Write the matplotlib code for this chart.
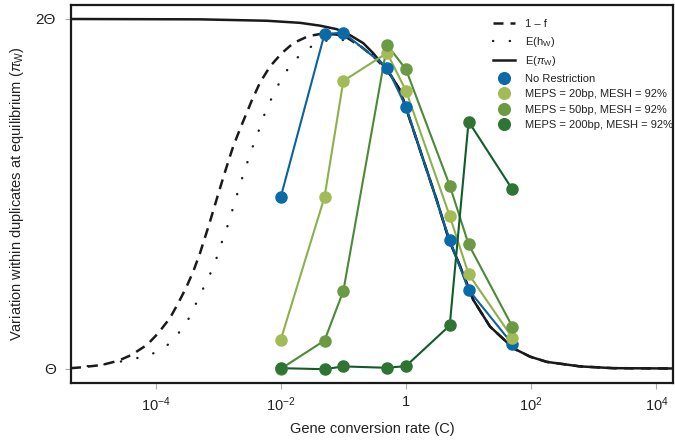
import matplotlib
matplotlib.use("Agg")
import matplotlib.pyplot as plt
import numpy as np

plt.rcParams['font.family'] = ['Liberation Sans', 'DejaVu Sans']
plt.rcParams['mathtext.fontset'] = 'custom'
plt.rcParams['mathtext.rm'] = 'Liberation Sans'
plt.rcParams['mathtext.it'] = 'Liberation Sans:italic'
plt.rcParams['mathtext.bf'] = 'Liberation Sans:bold'

# ---------------- data (Theta units) ----------------
C_sim = [0.01, 0.05, 0.1, 0.5, 1, 5, 10, 50]
no_restriction = [1.491, 1.957, 1.961, 1.861, 1.749, 1.367, 1.226, 1.071]
meps20 = [1.083, 1.491, 1.823, 1.903, 1.795, 1.437, 1.271, 1.089]
meps50 = [1.000, 1.081, 1.223, 1.926, 1.856, 1.524, 1.356, 1.121]
meps200 = [1.002, 0.999, 1.007, 1.003, 1.008, 1.124, 1.707, 1.513]

# E(pi_W) (log10 C, value)
epi_logC = [-5.35, -3.29, -2.225, -1.693, -1.374, -1.107, -0.895, -0.682, -0.522,
            -0.388, -0.228, -0.096, 0.0, 0.224, 0.49, 0.687, 0.863, 1.075, 1.342,
            1.714, 1.981, 2.248, 2.78, 3.307, 4.3]
epi_val = [2.0, 1.999, 1.995, 1.989, 1.981, 1.971, 1.954, 1.931, 1.902,
           1.873, 1.835, 1.797, 1.746, 1.626, 1.483, 1.369, 1.294, 1.197, 1.121,
           1.059, 1.035, 1.020, 1.007, 1.002, 1.001]

# 1 - f (left part; merges into E(pi_W) beyond)
f_logC = [-5.35, -5.208, -4.861, -4.596, -4.382, -4.133, -3.957, -3.77, -3.637,
          -3.514, -3.398, -3.291, -3.158, -3.078, -2.998, -2.918, -2.839,
          -2.759, -2.663, -2.599, -2.465, -2.332, -2.173, -1.986, -1.8, -1.561,
          -1.374, -1.134, -0.98, -0.71, -0.495, -0.308]
f_val = [1.002, 1.004, 1.011, 1.023, 1.040, 1.069, 1.102, 1.145, 1.188,
         1.231, 1.278, 1.330, 1.405, 1.452, 1.500, 1.547, 1.592,
         1.636, 1.680, 1.708, 1.766, 1.818, 1.864, 1.902, 1.931, 1.951,
         1.957, 1.956, 1.951, 1.920, 1.889, 1.854]

# E(h_W) (left part; merges into E(pi_W) beyond)
h_logC = [-5.35, -5.128, -4.676, -4.382, -4.117, -3.93, -3.77, -3.61, -3.45,
          -3.291, -3.158, -3.051, -2.971, -2.875, -2.796, -2.641, -2.556, -2.465,
          -2.375, -2.225, -2.013, -1.88, -1.72, -1.561, -1.443, -1.187, -1.0,
          -0.788, -0.575, -0.308]
h_val = [1.004, 1.007, 1.016, 1.028, 1.037, 1.054, 1.073, 1.107, 1.149,
         1.211, 1.259, 1.302, 1.348, 1.394, 1.440, 1.532, 1.578, 1.627,
         1.669, 1.745, 1.821, 1.859, 1.892, 1.916, 1.928, 1.943, 1.940,
         1.929, 1.906, 1.860]

x_ticks = [1e-4, 1e-2, 1, 1e2, 1e4]
x_ticklabels = [r'$10^{-4}$', r'$10^{-2}$', '1', r'$10^{2}$', r'$10^{4}$']
y_ticks = [1, 2]
y_ticklabels = ['Θ', '2Θ']

series_names = ['No Restriction', 'MEPS = 20bp, MESH = 92%',
                'MEPS = 50bp, MESH = 92%', 'MEPS = 200bp, MESH = 92%']
marker_colors = ['#0a6aa8', '#a3bb57', '#6b9a43', '#2e7433']
line_colors = ['#0a62a0', '#8db04c', '#4c8a38', '#115c2b']

# ---------------- figure ----------------
fig = plt.figure(figsize=(6.75, 4.42), dpi=100)
ax = fig.add_axes([71/675, 1-382.5/442, (673-71)/675, (382.5-5)/442])

epi_C = 10 ** np.array(epi_logC)
tail_f = [(c, v) for c, v in zip(epi_logC, epi_val) if c > f_logC[-1]]
tail_h = [(c, v) for c, v in zip(epi_logC, epi_val) if c > h_logC[-1]]
fC = 10 ** np.array(f_logC + [t[0] for t in tail_f])
fV = f_val + [t[1] for t in tail_f]
hC = 10 ** np.array(h_logC + [t[0] for t in tail_h])
hV = h_val + [t[1] for t in tail_h]

l1, = ax.plot(fC, fV, color='#1a1a1a', lw=1.8, linestyle=(0, (4, 2.8)), label='1 – f', zorder=2)
l2, = ax.plot(hC, hV, color='#1a1a1a', lw=1.7, linestyle=(0, (0.1, 7.0)),
              dash_capstyle='round', label=r'E($\mathrm{h_W}$)', zorder=2)
l3, = ax.plot(epi_C, epi_val, color='#1a1a1a', lw=1.8, label=r'E($\pi_\mathrm{W}$)', zorder=2)

handles = [l1, l2, l3]
for vals, name, mc, lc in zip([no_restriction, meps20, meps50, meps200],
                              series_names, marker_colors, line_colors):
    ax.plot(C_sim, vals, color=lc, lw=1.5, zorder=3)
    h, = ax.plot(C_sim, vals, linestyle='none', marker='o', markersize=8,
                 markerfacecolor=mc, markeredgecolor=mc, label=name, zorder=4)
    handles.append(h)

ax.set_xscale('log')
ax.set_xlim(10 ** -5.35, 10 ** 4.265)
ax.set_ylim(0.961, 2.04)
ax.set_xticks(x_ticks)
ax.set_xticklabels(x_ticklabels)
ax.xaxis.set_minor_locator(matplotlib.ticker.NullLocator())
ax.set_yticks(y_ticks)
ax.set_yticklabels(y_ticklabels)
ax.tick_params(axis='both', direction='out', length=4, width=0.8, color='#aaaaaa',
               labelcolor='#222222')
ax.tick_params(axis='x', labelsize=10.5, pad=5)
ax.tick_params(axis='y', labelsize=11, pad=7)
for s in ax.spines.values():
    s.set_linewidth(1.6)
    s.set_color('#1a1a1a')

ax.set_xlabel('Gene conversion rate (C)', fontsize=10.5, color='#222222', labelpad=6)
ax.set_ylabel(r'Variation within duplicates at equilibrium ($\pi_\mathrm{W}$)',
              fontsize=10.5, color='#222222', labelpad=7)

leg = ax.legend(handles=handles, loc='upper left',
                bbox_to_anchor=(493/675, 1-19/442), bbox_transform=fig.transFigure,
                frameon=False, fontsize=8, handlelength=2.0, handletextpad=0.9,
                labelspacing=0.5, borderpad=0, borderaxespad=0, markerscale=1.05)
for t in leg.get_texts():
    t.set_color('#222222')

fig.savefig('out.png', dpi=100)
